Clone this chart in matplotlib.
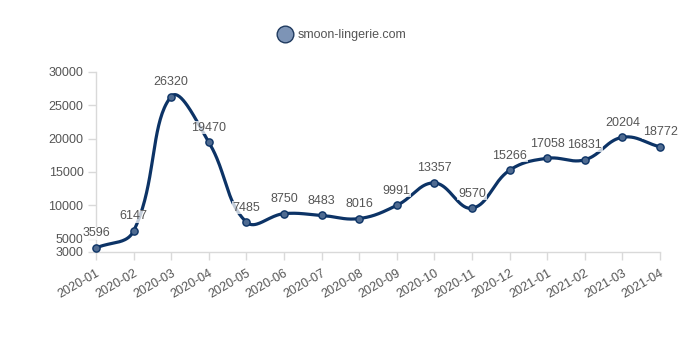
import numpy as np
import matplotlib.pyplot as plt
from matplotlib.lines import Line2D

plt.rcParams['font.family'] = ['Liberation Sans', 'DejaVu Sans']

months = ['2020-01', '2020-02', '2020-03', '2020-04', '2020-05', '2020-06',
          '2020-07', '2020-08', '2020-09', '2020-10', '2020-11', '2020-12',
          '2021-01', '2021-02', '2021-03', '2021-04']
visits = [3596, 6147, 26320, 19470, 7485, 8750, 8483, 8016,
          9991, 13357, 9570, 15266, 17058, 16831, 20204, 18772]
y_ticks = [3000, 5000, 10000, 15000, 20000, 25000, 30000]
series_name = 'smoon-lingerie.com'

LINE = '#0c3366'
MARKER_FILL = '#4f6b91'
TEXT = '#555555'
AXIS = '#d9d9d9'


def spline_path(xs, ys, sx, sy, tension=0.4, steps=40):
    """Cardinal spline through the points, control points built in pixel space."""
    px = np.asarray(xs, float) * sx
    py = np.asarray(ys, float) * sy
    n = len(px)
    prev_cp, next_cp = [], []
    for i in range(n):
        p0 = np.array([px[max(i - 1, 0)], py[max(i - 1, 0)]])
        p1 = np.array([px[i], py[i]])
        p2 = np.array([px[min(i + 1, n - 1)], py[min(i + 1, n - 1)]])
        d01 = np.hypot(*(p1 - p0))
        d12 = np.hypot(*(p2 - p1))
        tot = d01 + d12
        s01 = d01 / tot if tot else 0
        s12 = d12 / tot if tot else 0
        prev_cp.append(p1 - tension * s01 * (p2 - p0))
        next_cp.append(p1 + tension * s12 * (p2 - p0))
    out_x, out_y = [], []
    t = np.linspace(0, 1, steps)[:, None]
    for i in range(n - 1):
        a = np.array([px[i], py[i]])
        b = next_cp[i]
        c = prev_cp[i + 1]
        d = np.array([px[i + 1], py[i + 1]])
        seg = ((1 - t) ** 3) * a + 3 * ((1 - t) ** 2) * t * b + 3 * (1 - t) * t ** 2 * c + t ** 3 * d
        out_x.extend(seg[:, 0] / sx)
        out_y.extend(seg[:, 1] / sy)
    return np.array(out_x), np.array(out_y)


fig = plt.figure(figsize=(6.8, 3.4), dpi=100)
ax = fig.add_axes([96 / 680, 88 / 340, 564 / 680, 180 / 340])

x = np.arange(len(months))
ax.set_xlim(0, len(months) - 1)
ax.set_ylim(3000, 30000)

# pixel scale per unit, so the curve tension behaves like a screen-space spline
sx = 564 / (len(months) - 1)
sy = 180 / 27000
cx, cy = spline_path(x, visits, sx, sy)
ax.plot(cx, cy, color=LINE, linewidth=2.3, solid_capstyle='round', zorder=3, clip_on=False)
ax.plot(x, visits, linestyle='none', marker='o', markersize=5.2,
        markerfacecolor=MARKER_FILL, markeredgecolor=LINE, markeredgewidth=1.0,
        zorder=4, clip_on=False)

for xi, v in zip(x, visits):
    ax.annotate(str(v), (xi, v), xytext=(0, 10.5), textcoords='offset points',
                ha='center', va='center', fontsize=9, color=TEXT, zorder=5,
                bbox=dict(boxstyle='square,pad=0.05', facecolor='white',
                          edgecolor='none', alpha=0.75))

ax.set_xticks(x)
ax.set_xticklabels(months, rotation=30, ha='right', rotation_mode='anchor')
ax.set_yticks(y_ticks)
ax.tick_params(axis='both', colors=AXIS, labelcolor=TEXT, labelsize=9,
               length=6, width=1)
ax.tick_params(axis='x', pad=5)
ax.tick_params(axis='y', pad=3)

for side in ['top', 'right']:
    ax.spines[side].set_visible(False)
for side in ['left', 'bottom']:
    ax.spines[side].set_color(AXIS)
    ax.spines[side].set_linewidth(1)

handle = Line2D([], [], linestyle='none', marker='o', markersize=12,
                markerfacecolor='#7d94b6', markeredgecolor='#1f3a5f', markeredgewidth=1)
fig.legend([handle], [series_name], loc='center', bbox_to_anchor=(0.503, 1 - 35 / 340),
           frameon=False, fontsize=9, labelcolor=TEXT, handletextpad=0.45,
           handlelength=1.2)

fig.savefig('out.png', dpi=100, facecolor='white')
